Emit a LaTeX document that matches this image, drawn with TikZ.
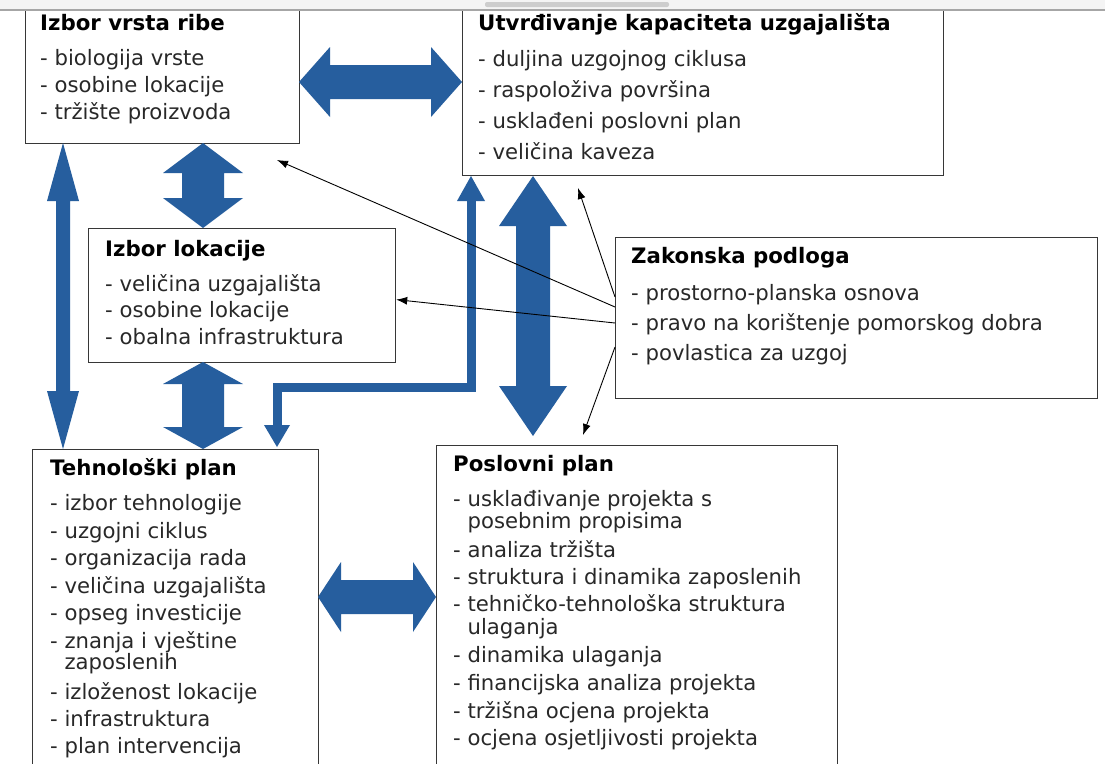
\documentclass[tikz,border=0pt]{standalone}
\usepackage{fontspec}
\setmainfont{DejaVu Sans}
\usetikzlibrary{arrows.meta}
\definecolor{arrblue}{RGB}{38,94,158}
\definecolor{boxline}{RGB}{55,55,55}
\definecolor{txt}{RGB}{40,40,40}
\definecolor{bandgray}{RGB}{244,244,244}
\definecolor{bargray}{RGB}{205,205,205}
\newcommand\vdarrow[6]{%
 \fill[arrblue] (#1,#2) -- ({#1+#5},{#2+#6}) -- ({#1+#4},{#2+#6}) -- ({#1+#4},{#3-#6}) -- ({#1+#5},{#3-#6}) -- (#1,#3) -- ({#1-#5},{#3-#6}) -- ({#1-#4},{#3-#6}) -- ({#1-#4},{#2+#6}) -- ({#1-#5},{#2+#6}) -- cycle;}
\newcommand\hdarrow[6]{%
 \fill[arrblue] (#2,#1) -- ({#2+#6},{#1-#5}) -- ({#2+#6},{#1-#4}) -- ({#3-#6},{#1-#4}) -- ({#3-#6},{#1-#5}) -- (#3,#1) -- ({#3-#6},{#1+#5}) -- ({#3-#6},{#1+#4}) -- ({#2+#6},{#1+#4}) -- ({#2+#6},{#1+#5}) -- cycle;}
\begin{document}
\begin{tikzpicture}[x=1pt,y=-1pt,
  box/.style={draw=boxline, line width=1.2pt, fill=white, inner sep=0pt, anchor=north west},
  ttl/.style={anchor=mid west, inner sep=0pt, font=\fontsize{21.3}{25}\selectfont\bfseries, text=black},
  itm/.style={anchor=mid west, inner sep=0pt, font=\fontsize{21.2}{25}\selectfont, text=txt},
  thinarrow/.style={draw=black, line width=0.9pt, -{Latex[length=11pt,width=8pt]}}]
\useasboundingbox (0,0) rectangle (1105,763);
\fill[white] (0,0) rectangle (1105,763);
\clip (0,0) rectangle (1105,763);

% boxes
\node[box, minimum width=274pt, minimum height=133pt] (b1) at (25,10) {};
\node[box, minimum width=481pt, minimum height=165pt] (b2) at (462,10) {};
\node[box, minimum width=307pt, minimum height=134pt] (b3) at (88,228) {};
\node[box, minimum width=482pt, minimum height=161pt] (b4) at (615,237) {};
\node[box, minimum width=286pt, minimum height=330pt] (b5) at (32,449) {};
\node[box, minimum width=401pt, minimum height=330pt] (b6) at (436,445) {};

% texts box 1
\node[ttl] (b1t) at (40,28) {Izbor vrsta ribe};
\node[itm] (b1a) at (40,63) {- biologija vrste};
\node[itm] (b1b) at (40,90) {- osobine lokacije};
\node[itm] (b1c) at (40,117) {- tržište proizvoda};
% box 2
\node[ttl] (b2t) at (478,28) {Utvrđivanje kapaciteta uzgajališta};
\node[itm] (b2a) at (478,64) {- duljina uzgojnog ciklusa};
\node[itm] (b2b) at (478,95) {- raspoloživa površina};
\node[itm] (b2c) at (478,126) {- usklađeni poslovni plan};
\node[itm] (b2d) at (478,157) {- veličina kaveza};
% box 3
\node[ttl] (b3t) at (105,254) {Izbor lokacije};
\node[itm] (b3a) at (105,289) {- veličina uzgajališta};
\node[itm] (b3b) at (105,315) {- osobine lokacije};
\node[itm] (b3c) at (105,342) {- obalna infrastruktura};
% box 4
\node[ttl] (b4t) at (631,261) {Zakonska podloga};
\node[itm] (b4a) at (631,298) {- prostorno-planska osnova};
\node[itm] (b4b) at (631,328) {- pravo na korištenje pomorskog dobra};
\node[itm] (b4c) at (631,358) {- povlastica za uzgoj};
% box 5
\node[ttl] (b5t) at (50,473) {Tehnološki plan};
\node[itm] (b5a) at (50,508) {- izbor tehnologije};
\node[itm] (b5b) at (50,536) {- uzgojni ciklus};
\node[itm] (b5c) at (50,563) {- organizacija rada};
\node[itm] (b5d) at (50,591) {- veličina uzgajališta};
\node[itm] (b5e) at (50,618) {- opseg investicije};
\node[itm] (b5f) at (50,646) {- znanja i vještine};
\node[itm] (b5g) at (50,667) {\phantom{- }zaposlenih};
\node[itm] (b5h) at (50,697) {- izloženost lokacije};
\node[itm] (b5i) at (50,724) {- infrastruktura};
\node[itm] (b5j) at (50,751) {- plan intervencija};
% box 6
\node[ttl] (b6t) at (453,469) {Poslovni plan};
\node[itm] (b6a) at (453,504) {- usklađivanje projekta s};
\node[itm] (b6b) at (453,526) {\phantom{- }posebnim propisima};
\node[itm] (b6c) at (453,555) {- analiza tržišta};
\node[itm] (b6d) at (453,582) {- struktura i dinamika zaposlenih};
\node[itm] (b6e) at (453,609) {- tehničko-tehnološka struktura};
\node[itm] (b6f) at (453,632) {\phantom{- }ulaganja};
\node[itm] (b6g) at (453,660) {- dinamika ulaganja};
\node[itm] (b6h) at (453,688) {- financijska analiza projekta};
\node[itm] (b6i) at (453,716) {- tržišna ocjena projekta};
\node[itm] (b6j) at (453,743) {- ocjena osjetljivosti projekta};

% blue double arrows
\hdarrow{82}{299}{462}{17}{35}{31}
\vdarrow{203}{143}{228}{21}{40}{30}
\vdarrow{63}{143}{449}{7}{16}{58}
\vdarrow{203}{362}{449}{21}{40}{22}
\vdarrow{533}{176}{436}{17}{34}{50}
\hdarrow{597}{318}{436}{17}{35}{23}
% L-shaped arrow
\draw[arrblue, line width=9pt, line join=miter] (277,428) -- (277,387) -- (471,387) -- (471,199);
\fill[arrblue] (471,176) -- (485,201) -- (457,201) -- cycle;
\fill[arrblue] (277,447) -- (290,425) -- (264,425) -- cycle;

% thin arrows from Zakonska podloga
\coordinate (e1) at (277,160);
\coordinate (e3) at (578,188);
\coordinate (e4) at (583,435);
\draw[thinarrow] ([yshift=-70pt]b4.north west) -- (e1);
\draw[thinarrow] ([yshift=-86pt]b4.north west) -- ([yshift=-4pt]b3.east);
\draw[thinarrow] ([yshift=-60pt]b4.north west) -- (e3);
\draw[thinarrow] ([yshift=-110pt]b4.north west) -- (e4);

% top band
\fill[bandgray] (0,0) rectangle (1105,10);
\fill[bargray, rounded corners=2pt] (485,2) rectangle (669,7);
\draw[gray!70, line width=1.2pt] (0,10) -- (1105,10);
\end{tikzpicture}
\end{document}
